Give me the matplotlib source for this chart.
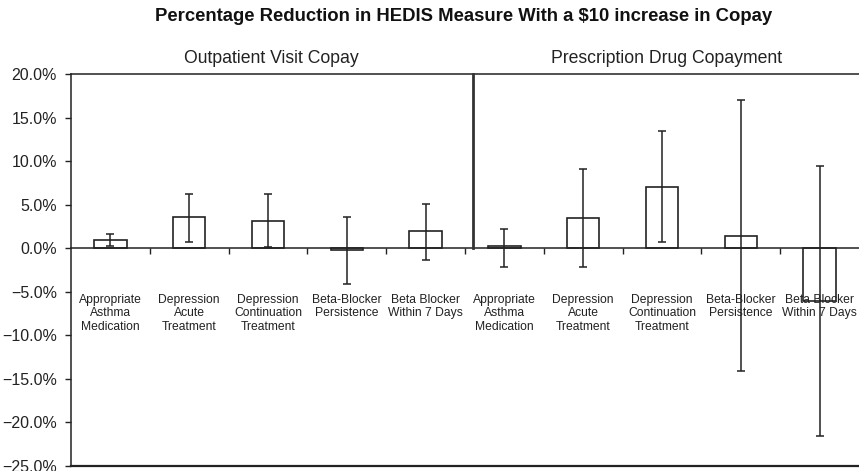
import matplotlib
matplotlib.use("Agg")
import matplotlib.pyplot as plt
import numpy as np
from matplotlib.ticker import FuncFormatter

plt.rcParams['font.family'] = ['Liberation Sans', 'DejaVu Sans']

# values in percent
labels = ["Appropriate\nAsthma\nMedication", "Depression\nAcute\nTreatment",
          "Depression\nContinuation\nTreatment", "Beta-Blocker\nPersistence",
          "Beta Blocker\nWithin 7 Days"] * 2
values = [1.0, 3.6, 3.1, -0.25, 2.0,
          0.25, 3.5, 7.05, 1.45, -6.05]
err_high = [1.6, 6.25, 6.25, 3.6, 5.1,
            2.2, 9.05, 13.4, 17.0, 9.4]
err_low = [0.3, 0.75, 0.1, -4.1, -1.3,
           -2.1, -2.2, 0.75, -14.1, -21.5]
panels = ["Outpatient Visit Copay", "Prescription Drug Copayment"]

line_c = '#222222'

fig = plt.figure(figsize=(8.59, 4.71), dpi=100)
ax = fig.add_axes([71 / 859, 5 / 471, 788 / 859, 392 / 471])

x = np.arange(len(values)) + 0.5
vals = np.array(values)
lo = vals - np.array(err_low)
hi = np.array(err_high) - vals

ax.bar(x, vals, width=0.41, color='white', edgecolor=line_c, linewidth=1.2, zorder=2)
ax.errorbar(x, vals, yerr=[lo, hi], fmt='none', ecolor=line_c, elinewidth=1.1,
            capsize=3, capthick=1.1, zorder=3)

ax.set_xlim(0, 10)
ax.set_ylim(-25, 20)
ax.set_yticks(np.arange(-25, 20.1, 5))
ax.yaxis.set_major_formatter(FuncFormatter(lambda v, p: f"{v:.1f}%".replace('-', '\u2212')))
ax.tick_params(axis='y', direction='out', length=4, width=1, color=line_c, labelsize=11.5,
               labelcolor='#222222', pad=6)

# x axis drawn through zero, ticks at category boundaries
ax.spines['bottom'].set_position(('data', 0))
ax.spines['bottom'].set_color(line_c)
ax.set_xticks(np.arange(1, 10))
ax.set_xticklabels([])
ax.tick_params(axis='x', direction='out', length=4, width=1, color=line_c)
ax.spines['right'].set_visible(False)
ax.spines['left'].set_color(line_c)
ax.spines['top'].set_color(line_c)
for s in ['left', 'top', 'bottom']:
    ax.spines[s].set_linewidth(1.1)
ax.axhline(-25, color=line_c, linewidth=1.6, clip_on=False)

# divider between the two groups
ax.plot([5.1, 5.1], [0, 20], color='#333333', linewidth=2, zorder=4, clip_on=False)

for xi, lab in zip(x, labels):
    ax.text(xi, -5.2, lab, ha='center', va='top', fontsize=8.7, color='#222222',
            linespacing=1.2, zorder=5)

for cx, p in zip([271.5, 667], panels):
    fig.text(cx / 859, 1 - 63 / 471, p, ha='center', va='baseline', fontsize=12.7,
             color='#222222')

fig.text(464 / 859, 1 - 21 / 471, "Percentage Reduction in HEDIS Measure With a $10 increase in Copay",
         ha='center', va='baseline', fontsize=13.3, fontweight='bold', color='#111111')

fig.savefig("out.png", dpi=100)
